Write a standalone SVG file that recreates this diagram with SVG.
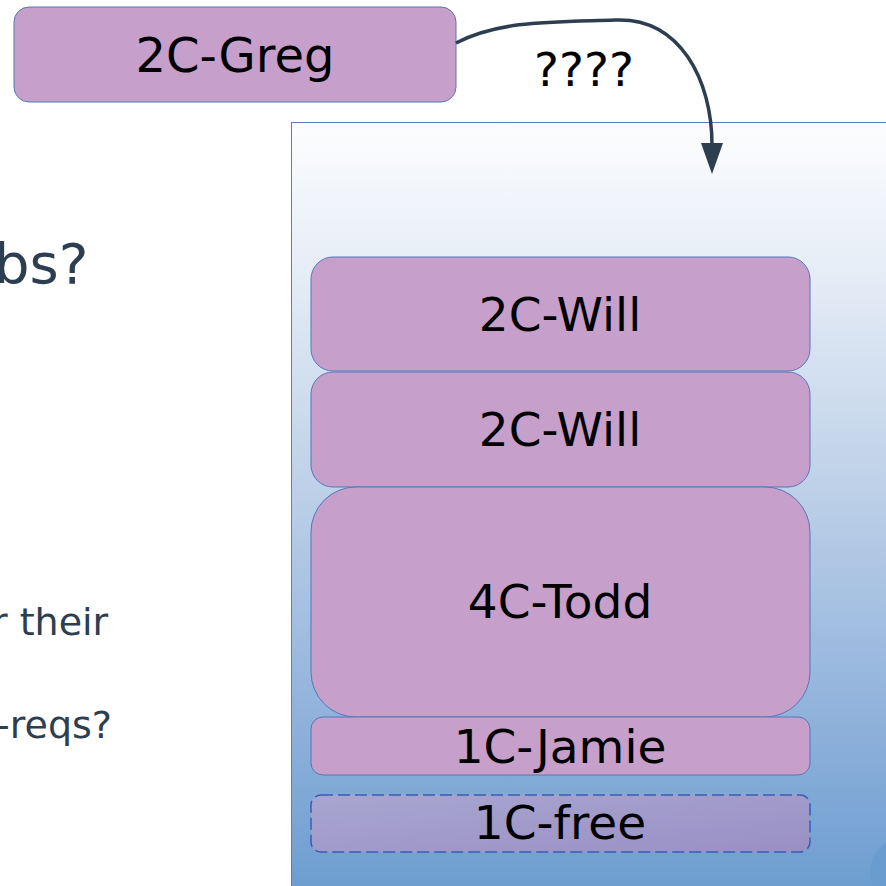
<svg xmlns="http://www.w3.org/2000/svg" width="886" height="886" viewBox="0 0 886 886">
<defs>
<linearGradient id="bg" x1="0" y1="0" x2="0" y2="1">
<stop offset="0" stop-color="#fdfdfe"/>
<stop offset="0.18" stop-color="#e7eef7"/>
<stop offset="0.45" stop-color="#c1d3e9"/>
<stop offset="0.75" stop-color="#93b4dc"/>
<stop offset="1" stop-color="#6c9dd0"/>
</linearGradient>
<linearGradient id="free" x1="0" y1="0" x2="1" y2="1">
<stop offset="0" stop-color="#a8a6d0"/>
<stop offset="1" stop-color="#9a8fc4"/>
</linearGradient>
</defs>
<style>
.node{fill:#c79fcb;stroke:#5577b8;stroke-width:1}
.lbl{font-family:"DejaVu Sans",sans-serif;fill:#000;text-anchor:middle}
.side{font-family:"DejaVu Sans",sans-serif;fill:#2c3e50}
.conn{fill:none;stroke:#2d3e50;stroke-width:3.5}
</style>
<rect width="886" height="886" fill="#ffffff"/>
<g id="container">
<rect x="291.5" y="122.5" width="600" height="770" fill="url(#bg)" stroke="#5b7fb5" stroke-width="1"/>
<circle cx="905" cy="872" r="35" fill="#6b9ccf"/>
</g>
<g id="side-text">
<text class="side" x="-6" y="283" font-size="56">bs?</text>
<text class="side" x="-8" y="635" font-size="38">r their</text>
<text class="side" x="-4" y="738" font-size="38">-reqs?</text>
</g>
<g id="greg">
<rect class="node" x="14" y="7" width="442" height="95" rx="15"/>
<text class="lbl" x="235" y="72" font-size="48">2C-Greg</text>
</g>
<g id="will1">
<rect class="node" x="311" y="257" width="499" height="114" rx="22"/>
<text class="lbl" x="560" y="331" font-size="47">2C-Will</text>
</g>
<g id="will2">
<rect class="node" x="311" y="372" width="499" height="115" rx="22"/>
<text class="lbl" x="560" y="446" font-size="47">2C-Will</text>
</g>
<g id="todd">
<rect class="node" x="311" y="487" width="499" height="230" rx="45"/>
<text class="lbl" x="560" y="618" font-size="47">4C-Todd</text>
</g>
<g id="jamie">
<rect class="node" x="311" y="717" width="499" height="58" rx="12"/>
<text class="lbl" x="560" y="763" font-size="47">1C-Jamie</text>
</g>
<g id="free-slot">
<rect x="311" y="795" width="499" height="57" rx="10" fill="url(#free)" stroke="#3a5cb5" stroke-width="1.5" stroke-dasharray="12 5"/>
<text class="lbl" x="560" y="839" font-size="47">1C-free</text>
</g>
<g id="connectors">
<path class="conn" d="M456,43 C500,20 555,22 615,20 C680,17 712,80 712,145"/>
<polygon points="701,143 723,143 712,174" fill="#2d3e50"/>
<text class="lbl" x="584" y="86" font-size="47">????</text>
</g>
</svg>
